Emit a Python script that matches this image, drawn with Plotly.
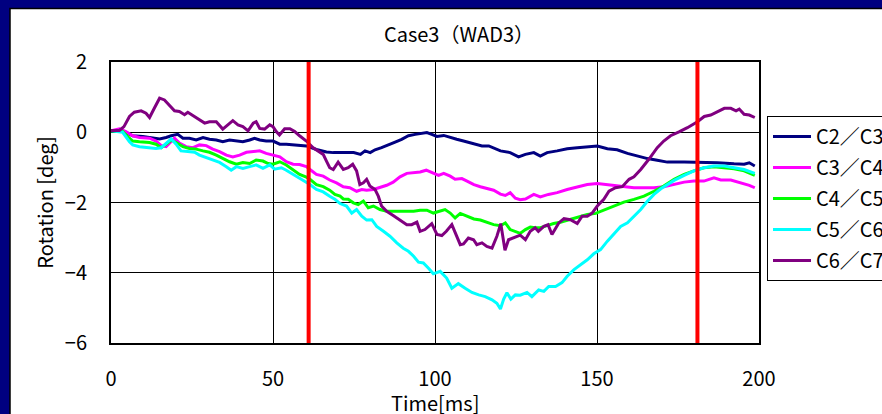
import plotly.graph_objects as go

# ---------------- data ----------------
series_names = ["C2／C3", "C3／C4", "C4／C5", "C5／C6", "C6／C7"]
series_colors = ["#000080", "#FF00FF", "#00FF00", "#00FFFF", "#800080"]

t_c2c3 = [0, 3.6, 5.2, 6.7, 9.8, 12.9, 15, 17, 18.6, 20.6, 22.2, 24.2, 26.3, 28.4, 30.4, 32.5, 34.5, 36.6,
          38.7, 40.7, 42.8, 44.3, 45.9, 47.9, 50, 52.1, 54.1, 56.2, 58.2, 60.3, 63.4, 66.5, 68.6, 71.7,
          74.9, 77, 78.4, 80, 81.5, 83.5, 85.6, 87.7, 89.7, 91.8, 93.9, 96, 97.5, 99, 100.6, 102.7, 104.7,
          106.7, 108.8, 110.9, 112.9, 114.5, 116.6, 119.1, 120.2, 123.2, 125.8, 127.9, 130.5, 132.5, 134.6,
          137.7, 140.8, 143.9, 147, 150.1, 153.2, 156.2, 159.4, 162.4, 165.6, 168.6, 171.7, 176.9, 182,
          187.2, 192.3, 195.4, 197, 198.7]
v_c2c3 = [0.05, 0.04, -0.03, -0.10, -0.12, -0.17, -0.19, -0.15, -0.10, -0.06, -0.17, -0.17, -0.22, -0.15,
          -0.20, -0.22, -0.27, -0.22, -0.25, -0.27, -0.22, -0.17, -0.22, -0.25, -0.25, -0.34, -0.34, -0.36,
          -0.38, -0.39, -0.49, -0.56, -0.58, -0.58, -0.58, -0.63, -0.53, -0.58, -0.50, -0.44, -0.37, -0.28,
          -0.20, -0.10, -0.06, -0.04, -0.01, -0.06, -0.12, -0.09, -0.15, -0.20, -0.25, -0.30, -0.34, -0.39,
          -0.39, -0.49, -0.53, -0.58, -0.70, -0.63, -0.58, -0.68, -0.58, -0.53, -0.47, -0.44, -0.42, -0.39,
          -0.47, -0.50, -0.60, -0.68, -0.75, -0.80, -0.85, -0.85, -0.85, -0.87, -0.90, -0.91, -0.87, -0.96]

t_c3c4 = [0, 2.6, 4.6, 6.7, 8.8, 11.9, 13.9, 15.5, 17, 18.6, 19.6, 21.1, 23.2, 25.3, 27.3, 29.4, 31.4, 33.5,
          35.6, 37.6, 39.7, 41.8, 43.8, 45.9, 47.9, 50, 52.1, 54.1, 56.2, 58.2, 60.3, 61.4, 63.4, 65.5, 67.5,
          69.6, 71.7, 73.7, 75.8, 77.4, 78.9, 81, 83, 85.1, 87.1, 89.2, 91.3, 93.4, 95.4, 97.3, 99, 101.1,
          102.7, 104.7, 106.2, 108.3, 109.9, 112, 114, 116.1, 118.1, 120.2, 121.7, 123.2, 124.8, 126.3,
          127.9, 130.5, 132.5, 135, 137.7, 140.8, 143.9, 147, 150.1, 153.2, 155.7, 158.3, 161.4, 164.5,
          167.6, 170.6, 173.8, 176.9, 179.9, 183, 186.1, 188.2, 191.3, 194.4, 197, 198.7]
v_c3c4 = [0.04, 0.10, 0.02, -0.10, -0.15, -0.17, -0.25, -0.38, -0.41, -0.25, -0.17, -0.31, -0.41, -0.44,
          -0.36, -0.38, -0.48, -0.55, -0.65, -0.70, -0.65, -0.57, -0.55, -0.53, -0.60, -0.65, -0.70, -0.84,
          -0.91, -0.92, -0.98, -1.06, -1.20, -1.25, -1.36, -1.44, -1.55, -1.58, -1.68, -1.63, -1.65, -1.63,
          -1.58, -1.51, -1.42, -1.27, -1.17, -1.15, -1.13, -1.08, -1.15, -1.23, -1.17, -1.25, -1.34, -1.32,
          -1.39, -1.49, -1.55, -1.61, -1.65, -1.76, -1.80, -1.72, -1.88, -1.92, -1.90, -1.77, -1.84, -1.77,
          -1.72, -1.63, -1.55, -1.49, -1.46, -1.49, -1.53, -1.55, -1.58, -1.58, -1.58, -1.55, -1.49, -1.42,
          -1.39, -1.39, -1.30, -1.36, -1.36, -1.44, -1.51, -1.58]

t_c4c5 = [0, 3.6, 5.7, 6.7, 8.8, 11.9, 13.9, 15.5, 17, 18.6, 20.1, 22.2, 24.2, 26.3, 28.4, 30.4, 32.5, 34.5,
          36.6, 38.7, 40.7, 42.8, 44.8, 46.9, 48.5, 50, 52.1, 54.1, 56.2, 58.2, 60.3, 61.4, 63.4, 65.5, 67.5,
          69.1, 70.7, 71.7, 73.2, 74.8, 76.3, 77.9, 79.4, 81, 83, 85.1, 87.1, 89.2, 91.3, 93.4, 95.4, 97.5,
          99.5, 101.1, 103.1, 104.7, 106.2, 107.8, 109.9, 112, 114, 116.1, 118.1, 120.2, 121.7, 123.2, 124.8,
          126.3, 127.9, 129.4, 130.9, 132.5, 134.6, 136.6, 138.7, 140.8, 142.9, 144.9, 147, 149.6, 152.1,
          155.2, 158.3, 161.4, 164.5, 167.6, 170.6, 173.8, 176.9, 179.9, 183, 186.1, 189.3, 192.3, 195.4, 198.7]
v_c4c5 = [0.04, 0.02, -0.17, -0.25, -0.27, -0.29, -0.34, -0.44, -0.34, -0.22, -0.29, -0.41, -0.46, -0.48,
          -0.53, -0.57, -0.65, -0.74, -0.84, -0.91, -0.86, -0.89, -0.79, -0.82, -0.89, -0.91, -0.84, -0.93,
          -1.08, -1.20, -1.28, -1.34, -1.49, -1.55, -1.65, -1.77, -1.82, -1.90, -1.91, -2.01, -2.06, -1.96,
          -2.15, -2.10, -2.20, -2.25, -2.25, -2.25, -2.25, -2.25, -2.22, -2.22, -2.30, -2.25, -2.20, -2.30,
          -2.44, -2.31, -2.39, -2.47, -2.50, -2.56, -2.63, -2.66, -2.58, -2.77, -2.82, -2.88, -2.77, -2.70,
          -2.72, -2.72, -2.66, -2.60, -2.56, -2.50, -2.44, -2.39, -2.34, -2.31, -2.22, -2.10, -1.99, -1.91,
          -1.82, -1.68, -1.53, -1.34, -1.20, -1.10, -1.01, -0.98, -1.01, -1.04, -1.10, -1.23]

t_c5c6 = [0, 3.6, 5.7, 6.7, 8.8, 11.9, 13.9, 15.5, 17, 18.6, 20.1, 21.6, 23.7, 25.8, 27.3, 29.4, 31.4, 33.5,
          35.6, 37.1, 38.7, 40.7, 42.8, 44.8, 46.9, 49, 50.5, 52.6, 54.1, 56.2, 58.2, 60.3, 61.4, 63.4, 65.5,
          67.5, 69.1, 70.7, 72.7, 74.3, 75.8, 77.4, 78.9, 80.5, 82, 84.1, 86.1, 88.2, 90.2, 91.8, 93.4, 94.9,
          96.4, 98, 99.5, 101.6, 103.6, 105.2, 107.2, 109.3, 111.4, 113.5, 115.5, 117.6, 119.1, 120.2, 121.2,
          122.2, 123.4, 124.8, 126.3, 128.4, 129.9, 132, 133.6, 135.1, 137.2, 139.2, 140.8, 142.9, 144.9, 147,
          149, 151.1, 153.2, 155.2, 157.3, 159.4, 161.4, 163.5, 165.6, 167.6, 169.7, 171.7, 173.8, 176.9,
          179.9, 183, 186.1, 189.3, 192.3, 195.4, 198.7]
v_c5c6 = [0.04, 0.0, -0.27, -0.36, -0.41, -0.44, -0.46, -0.44, -0.31, -0.19, -0.34, -0.53, -0.55, -0.57,
          -0.65, -0.72, -0.79, -0.86, -0.98, -1.08, -0.98, -1.03, -0.98, -0.93, -1.03, -0.93, -1.05, -1.01,
          -1.08, -1.20, -1.31, -1.41, -1.49, -1.63, -1.70, -1.82, -1.91, -2.03, -2.10, -2.30, -2.20, -2.39,
          -2.50, -2.49, -2.68, -2.82, -2.96, -3.15, -3.30, -3.39, -3.53, -3.70, -3.72, -3.87, -4.03, -3.96,
          -4.15, -4.44, -4.31, -4.44, -4.56, -4.63, -4.68, -4.77, -4.87, -5.03, -4.75, -4.57, -4.75, -4.63,
          -4.64, -4.56, -4.68, -4.49, -4.53, -4.39, -4.39, -4.28, -4.10, -3.91, -3.77, -3.63, -3.46, -3.34,
          -3.10, -2.91, -2.68, -2.58, -2.39, -2.20, -1.96, -1.77, -1.61, -1.49, -1.37, -1.23, -1.10, -1.01,
          -0.96, -0.96, -1.01, -1.06, -1.17]

t_c6c7 = [0, 2.6, 4, 5.7, 7.2, 9.3, 10.8, 11.9, 13.4, 15, 16.5, 18, 19.6, 21.1, 22.7, 23.7, 25.8, 27.3, 28.9,
          30.4, 32.5, 34.5, 36.1, 37.6, 39.2, 40.7, 42.3, 43.9, 44.8, 45.9, 47.4, 49, 50, 51, 52, 53.6, 55.2,
          56.7, 58.2, 60.3, 62.4, 63.9, 65.5, 66.5, 67.5, 68.6, 70.1, 71.7, 73.2, 74.6, 75.8, 76.8, 77.9,
          78.9, 79.9, 81.5, 82.5, 83.5, 85.1, 87.1, 89.2, 91.3, 92.8, 94.4, 95.4, 96.9, 99, 100.6, 102.1,
          103.5, 105.2, 106.7, 107.8, 108.8, 110.3, 111.9, 112.9, 114.5, 116, 117.6, 119.1, 120.3, 121.6,
          122.7, 124.3, 126.3, 127.9, 129.4, 130.9, 131.9, 133.6, 134.9, 136.1, 138.2, 139.8, 141.8, 143.9,
          145.4, 147, 148.5, 150.1, 152.1, 153.7, 155.7, 157.8, 159.9, 161.4, 163.5, 166, 168.6, 170.6,
          172.7, 175.3, 177.9, 181, 183.1, 185.1, 187.2, 189.3, 191.3, 192.9, 193.9, 195.4, 197, 198.7]
v_c6c7 = [0.05, 0.05, 0.16, 0.45, 0.57, 0.61, 0.54, 0.42, 0.69, 0.97, 0.92, 0.78, 0.61, 0.59, 0.50, 0.57,
          0.45, 0.37, 0.26, 0.30, 0.30, 0.09, 0.21, 0.33, 0.21, 0.16, 0.04, 0.26, 0.30, 0.11, 0.09, 0.21,
          0.16, 0.02, -0.08, 0.10, 0.10, 0.02, -0.10, -0.25, -0.44, -0.53, -0.63, -0.82, -1.01, -1.06, -0.85,
          -1.06, -1.01, -0.91, -1.10, -1.49, -1.44, -1.34, -1.53, -1.63, -1.82, -2.10, -2.25, -2.37, -2.49,
          -2.63, -2.63, -2.56, -2.82, -2.77, -2.60, -2.91, -2.94, -2.82, -2.63, -2.96, -3.20, -3.18, -3.01,
          -3.06, -3.20, -3.15, -3.25, -3.30, -2.96, -2.60, -3.36, -3.06, -3.01, -2.93, -3.06, -2.82, -2.72,
          -2.82, -2.68, -2.63, -2.91, -2.58, -2.46, -2.49, -2.60, -2.39, -2.39, -2.30, -2.10, -1.91, -1.68,
          -1.58, -1.55, -1.34, -1.27, -1.06, -0.77, -0.44, -0.25, -0.10, 0.01, 0.13, 0.30, 0.45, 0.49, 0.58,
          0.68, 0.68, 0.61, 0.66, 0.51, 0.49, 0.42]

series_t = [t_c2c3, t_c3c4, t_c4c5, t_c5c6, t_c6c7]
series_v = [v_c2c3, v_c3c4, v_c4c5, v_c5c6, v_c6c7]

marker_times = [61, 181]          # red vertical reference lines
x_ticks = [0, 50, 100, 150, 200]
y_ticks = [-6, -4, -2, 0, 2]

title_text = "Case3（WAD3）"
x_title = "Time[ms]"
y_title = "Rotation [deg]"

# ---------------- figure ----------------
W, H = 882, 414
L, T = 111, 62
R, B = W - 759, H - 343
FONT = "Noto Sans CJK JP, Noto Sans, sans-serif"
NAVY = "#000080"

fig = go.Figure()
for i, (name, color, t, v) in enumerate(zip(series_names, series_colors, series_t, series_v)):
    fig.add_trace(go.Scatter(x=t, y=v, mode="lines", name=name, legendgroup=f"g{i}",
                             line=dict(color=color, width=3)))

for mt in marker_times:
    fig.add_shape(type="line", xref="x", yref="paper", x0=mt, x1=mt, y0=0, y1=1,
                  line=dict(color="#FF0000", width=4), layer="above")

# white chart area inside navy frame (picture is cropped on right/bottom)
pw, ph = W - L - R, H - T - B
fig.add_shape(type="rect", xref="paper", yref="paper",
              x0=(10 - L) / pw, x1=(W + 30 - L) / pw,
              y0=(H - B - (H + 30)) / ph, y1=(H - B - 8.5) / ph,
              line=dict(color="black", width=1.5), fillcolor="white", layer="below")

# x-axis title placed just under the tick labels
fig.add_annotation(text=x_title, xref="paper", yref="paper", x=0.5,
                   y=(H - B - 402) / ph, xanchor="center", yanchor="middle",
                   showarrow=False, font=dict(family=FONT, size=20, color="black"))

fig.update_layout(
    width=W, height=H,
    margin=dict(l=L, r=R, t=T, b=B, autoexpand=False),
    paper_bgcolor=NAVY, plot_bgcolor="white",
    font=dict(family=FONT, size=20, color="black"),
    title=dict(text=title_text, x=0.537, xanchor="center", xref="paper",
               y=1 - 35 / H, yanchor="middle", yref="container",
               font=dict(family=FONT, size=20, color="black")),
    showlegend=True,
    legend=dict(xref="container", yref="container", x=767 / W, xanchor="left",
                y=1 - 116 / H, yanchor="top",
                bgcolor="white", bordercolor="black", borderwidth=1,
                font=dict(family=FONT, size=20, color="black"),
                tracegroupgap=2, traceorder="grouped", itemwidth=38),
)

fig.update_xaxes(range=[0, 200], tickvals=x_ticks, ticks="", showgrid=True, gridcolor="black",
                 gridwidth=1, showline=True, linecolor="black", linewidth=2, mirror=True,
                 zeroline=False, ticklabelstandoff=17, automargin=False)
fig.update_yaxes(range=[-6, 2], tickvals=y_ticks, ticks="", showgrid=True, gridcolor="black",
                 gridwidth=1, showline=True, linecolor="black", linewidth=2, mirror=True,
                 zeroline=False, ticklabelstandoff=18, automargin=False,
                 title=dict(text=y_title, standoff=6, font=dict(family=FONT, size=20)))

# place the figure flush with the window corner (no default page margin)
fig.write_html("out.html", config={"displayModeBar": False}, post_script=(
    "document.body.style.margin='0';document.body.style.overflow='hidden';"
    "document.body.style.background='%s';" % NAVY))
